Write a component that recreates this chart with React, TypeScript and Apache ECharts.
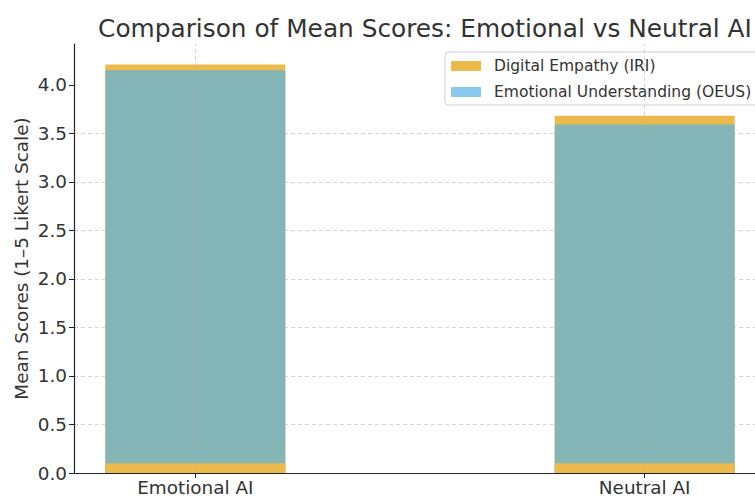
import React, { useEffect, useRef } from "react";
import * as echarts from "echarts";

const categories = ["Emotional AI", "Neutral AI"];
const categoryPositions = [0, 1];
const iriValues = [4.21, 3.68];
const oeusBase = [0.1, 0.1];
const oeusTops = [4.15, 3.59];
const yTicks = [0, 0.5, 1, 1.5, 2, 2.5, 3, 3.5, 4];
const yMax = 4.4205;

const FONT = "DejaVu Sans";
const TXT = "#333333";
const ORANGE = "#ECBA4C";
const TEAL = "#84B5B7";

export default function App() {
  const ref = useRef<HTMLDivElement>(null);
  useEffect(() => {
    const chart = echarts.init(ref.current!, null, { renderer: "svg" });
    const pair = (vals: number[]) => categoryPositions.map((x, i) => [x, vals[i]]);
    chart.setOption({
      animation: false,
      backgroundColor: "#ffffff",
      textStyle: { fontFamily: FONT },
      title: {
        text: "Comparison of Mean Scores: Emotional vs Neutral AI",
        left: 420,
        textAlign: "center",
        top: 11,
        textStyle: { fontFamily: FONT, fontSize: 24.8, fontWeight: "normal", color: TXT },
      },
      legend: {
        orient: "vertical",
        left: 445,
        top: 52,
        padding: [6, 8, 5, 6],
        icon: "rect",
        itemWidth: 30,
        itemHeight: 10,
        itemGap: 10,
        backgroundColor: "#ffffff",
        borderColor: "#d0d0d0",
        borderWidth: 1,
        borderRadius: 3,
        textStyle: { fontFamily: FONT, fontSize: 15.5, color: TXT, padding: [0, 0, 0, 8] },
        data: [
          { name: "Digital Empathy (IRI)", itemStyle: { color: ORANGE } },
          { name: "Emotional Understanding (OEUS)", itemStyle: { color: "#89CAEE" } },
        ],
      },
      grid: { left: 74, top: 44, right: 0, bottom: 23, containLabel: false },
      xAxis: {
        type: "value",
        min: -0.27,
        max: 1.27,
        axisLine: { show: true, onZero: false, lineStyle: { color: "#222", width: 1.2 } },
        axisTick: { show: true, customValues: categoryPositions, length: 5, lineStyle: { color: "#222" } },
        axisLabel: {
          customValues: categoryPositions,
          formatter: (v: number) => categories[Math.round(v)] ?? "",
          fontFamily: FONT,
          fontSize: 18.4,
          color: TXT,
          margin: 5,
        },
        splitLine: { show: false },
      },
      yAxis: {
        type: "value",
        min: 0,
        max: yMax,
        interval: 0.5,
        axisLine: { show: true, onZero: false, lineStyle: { color: "#222", width: 1.2 } },
        axisTick: { show: true, customValues: yTicks, length: 5, lineStyle: { color: "#222" } },
        axisLabel: {
          customValues: yTicks,
          formatter: (v: number) => v.toFixed(1),
          fontFamily: FONT,
          fontSize: 18.4,
          color: TXT,
          margin: 7,
        },
        splitLine: {
          show: true,
          showMaxLine: false,
          lineStyle: { color: "#d6d6d6", type: [4, 3], width: 1 },
        },
        name: "Mean Scores (1\u20135 Likert Scale)",
        nameLocation: "middle",
        nameGap: 44,
        nameMoveOverlap: false,
        nameTextStyle: { fontFamily: FONT, fontSize: 18.4, color: TXT },
      },
      series: [
        {
          name: "Digital Empathy (IRI)",
          type: "bar",
          data: pair(iriValues),
          barWidth: 180,
          barGap: "-100%",
          itemStyle: { color: ORANGE },
          z: 2,
        },
        {
          name: "Emotional Understanding (OEUS)",
          type: "bar",
          data: pair(oeusTops),
          barWidth: 180,
          barGap: "-100%",
          itemStyle: { color: TEAL },
          z: 3,
        },
        {
          name: "oeus-base",
          type: "bar",
          data: pair(oeusBase),
          barWidth: 180,
          barGap: "-100%",
          itemStyle: { color: ORANGE },
          silent: true,
          z: 4,
          markLine: {
            silent: true,
            symbol: "none",
            label: { show: false },
            lineStyle: { color: "rgba(170,170,170,0.5)", type: [4, 3], width: 1 },
            data: categoryPositions.map((x) => [
              { coord: [x, 0] },
              { coord: [x, yMax] },
            ]),
          },
        },
      ],
    });
    return () => chart.dispose();
  }, []);
  return (
    <div style={{ position: "fixed", left: 0, top: 0, width: 755, height: 496, overflow: "hidden" }}>
      <div ref={ref} style={{ width: 766, height: 496 }} />
    </div>
  );
}
